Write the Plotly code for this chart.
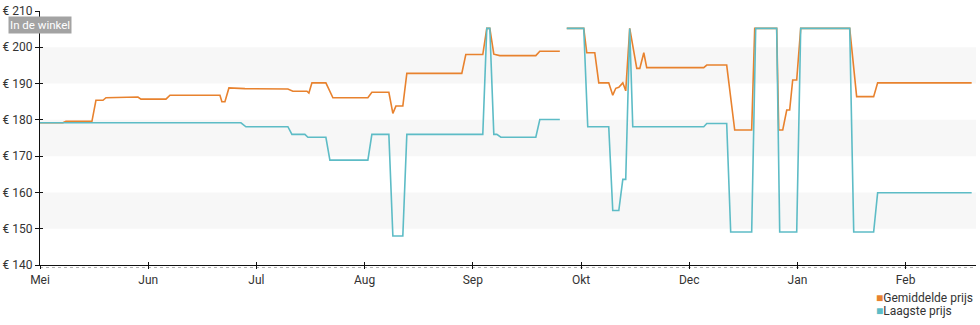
import plotly.graph_objects as go

# Month positions (0 = Mei) and tick labels
tick_pos = [0, 1, 2, 3, 4, 5, 6, 7, 8]
tick_text = ["Mei", "Jun", "Jul", "Aug", "Sep", "Okt", "Dec", "Jan", "Feb"]

y_ticks = [140, 150, 160, 170, 180, 190, 200, 210]
y_tick_text = ["€ 140", "€ 150", "€ 160", "€ 170", "€ 180", "€ 190", "€ 200", "€ 210"]
bands = [(150, 160), (170, 180), (190, 200)]

# Gemiddelde prijs (average price)
avg_x = [0, 0.212, 0.240, 0.480, 0.517, 0.582, 0.610, 0.905, 0.933, 1.164, 1.201, 1.663,
         1.681, 1.709, 1.746, 1.894, 2.291, 2.337, 2.467, 2.485, 2.513, 2.642, 2.707, 3.030,
         3.067, 3.224, 3.261, 3.289, 3.353, 3.390, 3.898, 3.935, 4.092, 4.129, 4.157, 4.194,
         4.249, 4.582, 4.619, 4.804, None,
         4.868, 5.025, 5.053, 5.127, 5.164, 5.256, 5.293, 5.321, 5.349, 5.386, 5.413, 5.450,
         5.515, 5.543, 5.580, 5.607, 6.134, 6.162, 6.346, 6.420, 6.577, 6.605, 6.808, 6.827,
         6.864, 6.901, 6.928, 6.956, 6.993, 7.030, 7.483, 7.547, 7.704, 7.741, 8.610]
avg_y = [179.2, 179.2, 179.6, 179.6, 185.4, 185.4, 186.1, 186.3, 185.7, 185.7, 186.8, 186.8,
         185.0, 185.0, 188.8, 188.6, 188.5, 187.9, 187.9, 187.4, 190.2, 190.2, 186.1, 186.1,
         187.6, 187.6, 181.8, 183.8, 183.8, 192.8, 192.8, 198.0, 198.0, 205.2, 205.2, 198.1,
         197.7, 197.7, 198.9, 198.9, None,
         205.2, 205.2, 198.5, 198.5, 190.2, 190.2, 186.8, 188.7, 189.0, 190.2, 188.0, 205.2,
         194.2, 194.2, 198.5, 194.4, 194.4, 195.1, 195.1, 177.2, 177.2, 205.2, 205.2, 177.2,
         177.2, 182.7, 182.7, 191.0, 191.0, 205.2, 205.2, 186.4, 186.4, 190.2, 190.2]

# Laagste prijs (lowest price)
low_x = [0, 1.857, 1.903, 2.291, 2.328, 2.448, 2.476, 2.642, 2.679, 3.030, 3.067, 3.224,
         3.261, 3.353, 3.390, 4.092, 4.129, 4.157, 4.194, 4.222, 4.259, 4.582, 4.619, 4.804,
         None,
         4.868, 5.025, 5.062, 5.256, 5.293, 5.349, 5.386, 5.413, 5.450, 5.478, 6.134, 6.162,
         6.346, 6.383, 6.577, 6.614, 6.808, 6.836, 6.993, 7.030, 7.483, 7.520, 7.704, 7.741,
         8.610]
low_y = [179.2, 179.2, 178.1, 178.1, 176.0, 176.0, 175.2, 175.2, 168.9, 168.9, 176.0, 176.0,
         148.0, 148.0, 176.0, 176.0, 205.2, 205.2, 176.0, 176.0, 175.2, 175.2, 180.1, 180.1,
         None,
         205.2, 205.2, 178.1, 178.1, 155.0, 155.0, 163.6, 163.6, 205.2, 178.1, 178.1, 179.0,
         179.0, 149.1, 149.1, 205.2, 205.2, 149.1, 149.1, 205.2, 205.2, 149.1, 149.1, 159.9,
         159.9]

orange = "#e8822e"
teal = "#5dbcc6"
font = "Roboto"

fig = go.Figure()
fig.add_trace(go.Scatter(x=avg_x, y=avg_y, mode="lines", name="Gemiddelde prijs",
                         line=dict(color=orange, width=1.6), connectgaps=False,
                         showlegend=False))
fig.add_trace(go.Scatter(x=low_x, y=low_y, mode="lines", name="Laagste prijs",
                         line=dict(color=teal, width=1.6), connectgaps=False,
                         showlegend=False))
# overlay axis for inner tick marks
fig.add_trace(go.Scatter(x=[None], y=[None], yaxis="y2", xaxis="x2", showlegend=False))

shapes = []
for lo, hi in bands:
    shapes.append(dict(type="rect", xref="paper", yref="y", x0=0, x1=1, y0=lo, y1=hi,
                       fillcolor="#f7f7f7", line=dict(width=0), layer="below"))
shapes.append(dict(type="line", xref="paper", yref="paper", x0=0, x1=1, y0=-0.01, y1=-0.01,
                   line=dict(color="#b0b0b0", width=1, dash="dot"), layer="below"))

fig.update_layout(
    width=980, height=325,
    margin=dict(l=40, r=4, t=11, b=60),
    paper_bgcolor="white", plot_bgcolor="white",
    font=dict(family=font, size=12, color="#333333"),
    shapes=shapes,
    xaxis=dict(range=[0, 8.65], tickmode="array", tickvals=tick_pos, ticktext=tick_text,
               showgrid=False, zeroline=False, showline=True, linecolor="#111111",
               linewidth=1.2, ticks="outside", ticklen=3, tickcolor="#111111",
               tickfont=dict(size=12, color="#333333")),
    yaxis=dict(range=[140, 210], tickmode="array", tickvals=y_ticks, ticktext=y_tick_text,
               showgrid=False, zeroline=False, showline=True, linecolor="#111111",
               linewidth=1.2, ticks="outside", ticklen=4, tickcolor="#111111",
               tickfont=dict(size=12, color="#333333")),
    yaxis2=dict(range=[140, 210], overlaying="y", tickmode="array", tickvals=y_ticks,
                showticklabels=False, showgrid=False, zeroline=False, showline=False,
                ticks="inside", ticklen=3, tickcolor="#111111", anchor="x2"),
    xaxis2=dict(range=[0, 8.65], overlaying="x", tickmode="array", tickvals=tick_pos,
                showticklabels=False, showgrid=False, zeroline=False, showline=False,
                ticks="inside", ticklen=3, tickcolor="#111111", anchor="y2", side="bottom"),
    showlegend=False,
)

fig.add_annotation(xref="paper", yref="paper", x=-0.034, y=0.943, xanchor="left",
                   yanchor="middle", text="In de winkel", showarrow=False,
                   font=dict(family=font, size=11.5, color="white"),
                   bgcolor="#a3a3a3", borderpad=1)
fig.add_annotation(xref="paper", yref="paper", x=0.891, y=-0.13, xanchor="left",
                   yanchor="middle", showarrow=False, align="left",
                   text=f"<span style='color:{orange}'>■</span>Gemiddelde prijs",
                   font=dict(family=font, size=12, color="#333333"))
fig.add_annotation(xref="paper", yref="paper", x=0.891, y=-0.183, xanchor="left",
                   yanchor="middle", showarrow=False, align="left",
                   text=f"<span style='color:{teal}'>■</span>Laagste prijs",
                   font=dict(family=font, size=12, color="#333333"))

fig.write_html("out.html")
